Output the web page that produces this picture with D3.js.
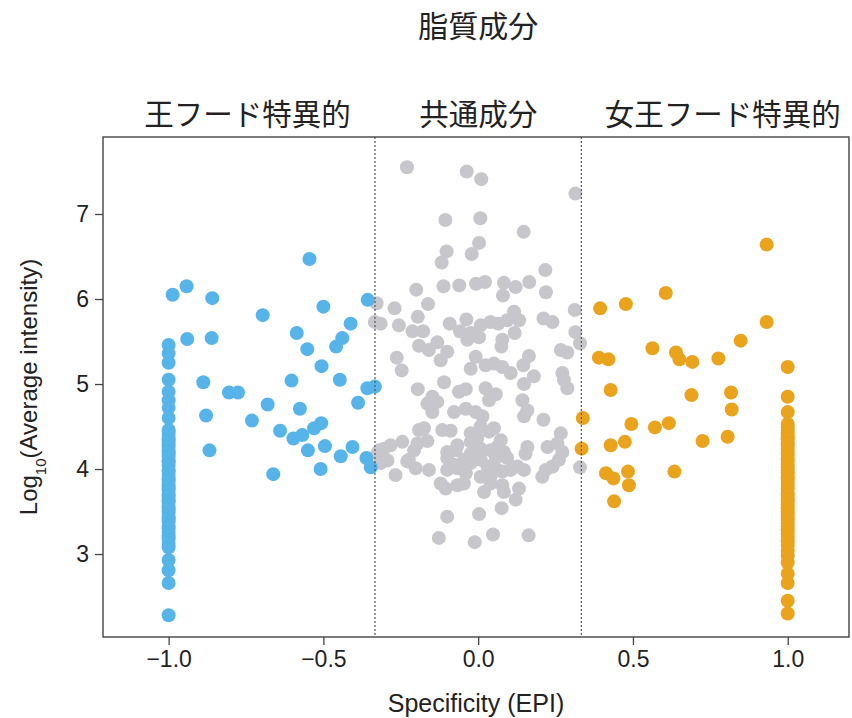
<!DOCTYPE html>
<html>
<head>
<meta charset="utf-8">
<script src="https://cdn.jsdelivr.net/npm/d3@7"></script>
<style>
  body { margin: 0; background: #fff; }
  svg { display: block; }
  .latin { font-family: "Liberation Sans", Arial, sans-serif; fill: #222; }
  .cjk { font-family: "Noto Sans CJK JP", sans-serif; fill: #222; }
</style>
</head>
<body>
<div id="chart"></div>
<script>
const title = '脂質成分';
const groupLabels = ['王フード特異的', '共通成分', '女王フード特異的'];
const groupLabelX = [-0.745, 0, 0.79];
const xTicks = [-1, -0.5, 0, 0.5, 1];
const yTicks = [3, 4, 5, 6, 7];
const cutoffs = [-1 / 3, 1 / 3];

// king-food specific lipids, scattered part [EPI, log10 intensity]
const kingScatter = [
  [-0.545, 6.47], [-0.942, 6.15], [-0.987, 6.05], [-0.859, 6.01], [-0.357, 5.99],
  [-0.50, 5.91], [-0.696, 5.81], [-0.412, 5.71], [-0.586, 5.60], [-0.439, 5.54],
  [-0.459, 5.44], [-0.552, 5.41], [-0.940, 5.53], [-0.861, 5.54], [-0.506, 5.21],
  [-0.888, 5.02], [-0.805, 4.90], [-0.776, 4.90], [-0.603, 5.04], [-0.447, 5.05],
  [-0.358, 4.95], [-0.334, 4.97], [-0.388, 4.78], [-0.680, 4.76], [-0.576, 4.71],
  [-0.879, 4.63], [-0.731, 4.57], [-0.640, 4.45], [-0.597, 4.36], [-0.568, 4.40],
  [-0.530, 4.48], [-0.507, 4.54], [-0.550, 4.22], [-0.495, 4.27], [-0.444, 4.15],
  [-0.406, 4.26], [-0.361, 4.13], [-0.347, 4.02], [-0.868, 4.22], [-0.509, 4.00],
  [-0.662, 3.94]
];
// king-food only (EPI = -1)
const kingOnly = [
  5.46, 5.36, 5.25, 5.05, 4.91, 4.81, 4.72, 4.60, 4.46, 4.44, 4.40, 4.35, 4.33,
  4.29, 4.26, 4.21, 4.19, 4.15, 4.10, 4.08, 4.04, 3.99, 3.97, 3.93, 3.88, 3.86,
  3.81, 3.78, 3.75, 3.70, 3.67, 3.63, 3.61, 3.55, 3.52, 3.49, 3.44, 3.41, 3.38,
  3.33, 3.30, 3.26, 3.21, 3.18, 3.13, 3.08, 2.93, 2.81, 2.66, 2.28
];

// queen-food specific lipids, scattered part
const queenScatter = [
  [0.932, 6.64], [0.606, 6.07], [0.477, 5.94], [0.394, 5.89], [0.932, 5.73],
  [0.848, 5.51], [0.563, 5.42], [0.639, 5.37], [0.650, 5.29], [0.692, 5.26],
  [0.776, 5.30], [0.390, 5.31], [0.421, 5.29], [0.428, 4.93], [0.689, 4.87],
  [0.817, 4.90], [0.819, 4.70], [0.338, 4.60], [0.495, 4.53], [0.571, 4.49],
  [0.616, 4.54], [0.725, 4.33], [0.806, 4.38], [0.428, 4.28], [0.474, 4.32],
  [0.334, 4.24], [0.413, 3.95], [0.437, 3.89], [0.484, 3.97], [0.487, 3.81],
  [0.634, 3.97], [0.439, 3.62]
];
// queen-food only (EPI = 1)
const queenOnly = [
  5.20, 4.85, 4.67, 4.53, 4.49, 4.46, 4.42, 4.38, 4.35, 4.31, 4.28, 4.24, 4.20,
  4.17, 4.13, 4.10, 4.06, 4.02, 3.98, 3.95, 3.91, 3.88, 3.84, 3.80, 3.77, 3.72,
  3.69, 3.65, 3.62, 3.58, 3.54, 3.50, 3.47, 3.43, 3.40, 3.36, 3.32, 3.28, 3.24,
  3.20, 3.15, 3.10, 3.04, 2.98, 2.90, 2.77, 2.66, 2.45, 2.30
];

// shared lipids
const shared = [
  [-0.230, 7.55], [-0.037, 7.50], [0.010, 7.41], [0.314, 7.24], [-0.106, 6.93],
  [0.007, 6.95], [0.147, 6.79], [0.003, 6.66], [-0.021, 6.53], [-0.102, 6.56],
  [-0.118, 6.43], [0.217, 6.34], [-0.200, 6.11], [-0.112, 6.15], [-0.061, 6.16],
  [-0.007, 6.18], [0.022, 6.20], [0.083, 6.19], [0.121, 6.14], [0.165, 6.20],
  [0.219, 6.08], [0.080, 6.04], [-0.328, 5.95], [-0.270, 5.89], [-0.162, 5.94],
  [-0.195, 5.79], [-0.315, 5.71], [-0.256, 5.69], [-0.212, 5.62], [-0.178, 5.62],
  [-0.092, 5.71], [-0.038, 5.76], [-0.059, 5.62], [-0.024, 5.60], [0.008, 5.69],
  [0.040, 5.73], [0.065, 5.71], [0.116, 5.85], [0.132, 5.75], [0.094, 5.75],
  [0.211, 5.77], [0.240, 5.73], [0.312, 5.87], [0.314, 5.61], [0.329, 5.48],
  [-0.035, 5.52], [0.003, 5.55], [0.078, 5.52], [0.118, 5.60], [-0.191, 5.45],
  [-0.159, 5.40], [-0.132, 5.49], [-0.100, 5.38], [-0.121, 5.28], [0.075, 5.44],
  [0.164, 5.33], [0.146, 5.22], [0.267, 5.40], [0.288, 5.37], [-0.263, 5.31],
  [-0.247, 5.16], [-0.008, 5.32], [-0.024, 5.18], [0.024, 5.22], [0.051, 5.24],
  [0.078, 5.20], [0.105, 5.13], [0.272, 5.13], [0.180, 5.09], [-0.195, 4.94],
  [-0.110, 5.02], [-0.062, 4.91], [-0.040, 4.94], [0.024, 4.95], [0.057, 4.88],
  [0.035, 4.81], [0.148, 5.00], [0.143, 4.81], [0.277, 5.05], [0.288, 4.95],
  [-0.148, 4.85], [-0.164, 4.77], [-0.132, 4.79], [-0.148, 4.67], [-0.078, 4.67],
  [-0.040, 4.71], [-0.008, 4.67], [0.014, 4.62], [0.159, 4.69], [0.148, 4.62],
  [0.211, 4.58], [-0.175, 4.48], [-0.191, 4.46], [-0.116, 4.46], [-0.089, 4.45],
  [-0.024, 4.42], [0.008, 4.50], [0.035, 4.44], [0.051, 4.48], [-0.024, 4.32],
  [-0.003, 4.36], [0.073, 4.34], [0.267, 4.42], [-0.245, 4.32], [-0.283, 4.28],
  [-0.304, 4.24], [-0.326, 4.18], [-0.196, 4.30], [-0.164, 4.33], [-0.207, 4.22],
  [-0.224, 4.11], [-0.100, 4.20], [-0.073, 4.22], [-0.067, 4.28], [-0.024, 4.18],
  [0.008, 4.24], [0.040, 4.22], [0.062, 4.26], [0.083, 4.20], [0.094, 4.13],
  [0.159, 4.26], [0.153, 4.18], [0.224, 4.26], [0.256, 4.30], [0.272, 4.20],
  [0.261, 4.11], [0.240, 4.03], [-0.293, 4.10], [-0.315, 4.07], [-0.229, 4.09],
  [-0.202, 4.01], [-0.267, 3.93], [-0.159, 3.99], [-0.100, 3.99], [-0.067, 4.01],
  [-0.040, 3.95], [-0.100, 4.13], [-0.046, 4.11], [-0.078, 4.05], [-0.024, 4.07],
  [0.008, 4.11], [0.030, 4.03], [0.057, 4.13], [0.062, 3.99], [0.008, 3.91],
  [0.040, 3.91], [0.078, 3.97], [0.105, 3.99], [0.127, 4.03], [0.148, 3.99],
  [0.207, 3.91], [0.218, 3.99], [0.240, 4.03], [-0.121, 3.83], [-0.105, 3.77],
  [-0.067, 3.81], [-0.046, 3.83], [0.019, 3.73], [0.040, 3.83], [0.078, 3.81],
  [0.083, 3.73], [0.132, 3.77], [0.121, 3.64], [0.076, 3.54], [0.003, 3.47],
  [-0.100, 3.44], [-0.127, 3.19], [-0.011, 3.14], [0.048, 3.23], [0.163, 3.22],
  [0.329, 4.02], [-0.334, 5.73], [-0.320, 4.22], [-0.334, 4.97]
];

const colors = { king: '#56b4e9', queen: '#e9a31c', shared: '#c7c6cb' };

const width = 852, height = 718;
const margin = { top: 137, right: 3, bottom: 81, left: 103 };

const svg = d3.select('#chart').append('svg')
  .attr('width', width)
  .attr('height', height);

const x = d3.scaleLinear().domain([-1.212, 1.198]).range([margin.left, width - margin.right]);
const y = d3.scaleLinear().domain([2.024, 7.906]).range([height - margin.bottom, margin.top]);

const r = 7;

function dots(data, color) {
  svg.append('g')
    .selectAll('circle')
    .data(data)
    .join('circle')
    .attr('cx', d => x(d[0]))
    .attr('cy', d => y(d[1]))
    .attr('r', r)
    .attr('fill', color);
}

dots(shared, colors.shared);
dots(kingScatter, colors.king);
dots(kingOnly.map(v => [-1, v]), colors.king);
dots(queenScatter, colors.queen);
dots(queenOnly.map(v => [1, v]), colors.queen);

// cutoff lines
svg.append('g')
  .selectAll('line')
  .data(cutoffs)
  .join('line')
  .attr('x1', d => x(d)).attr('x2', d => x(d))
  .attr('y1', margin.top).attr('y2', height - margin.bottom)
  .attr('stroke', '#555')
  .attr('stroke-width', 1.2)
  .attr('stroke-dasharray', '2,2');

// box
svg.append('rect')
  .attr('x', margin.left)
  .attr('y', margin.top)
  .attr('width', width - margin.left - margin.right)
  .attr('height', height - margin.top - margin.bottom)
  .attr('fill', 'none')
  .attr('stroke', '#444')
  .attr('stroke-width', 1.4);

const xAxis = svg.append('g')
  .attr('transform', `translate(0,${height - margin.bottom})`)
  .call(d3.axisBottom(x).tickValues(xTicks).tickFormat(d3.format('.1f')).tickSize(8).tickSizeOuter(0).tickPadding(6));
xAxis.select('.domain').remove();

const yAxis = svg.append('g')
  .attr('transform', `translate(${margin.left},0)`)
  .call(d3.axisLeft(y).tickValues(yTicks).tickFormat(d3.format('d')).tickSize(8).tickSizeOuter(0).tickPadding(6));
yAxis.select('.domain').remove();

svg.selectAll('.tick line').attr('stroke', '#444').attr('stroke-width', 1.3);
svg.selectAll('.tick text')
  .attr('class', 'latin')
  .style('font-size', '23px')
  .attr('fill', '#222');

svg.append('text')
  .attr('class', 'latin')
  .attr('x', (margin.left + width - margin.right) / 2)
  .attr('y', 712)
  .attr('text-anchor', 'middle')
  .style('font-size', '25px')
  .text('Specificity (EPI)');

const yLabel = svg.append('text')
  .attr('class', 'latin')
  .attr('transform', `translate(37,${(margin.top + height - margin.bottom) / 2}) rotate(-90)`)
  .attr('text-anchor', 'middle')
  .style('font-size', '24px');
yLabel.append('tspan').text('Log');
yLabel.append('tspan').attr('baseline-shift', 'sub').style('font-size', '15px').text('10');
yLabel.append('tspan').text('(Average intensity)');

svg.append('text')
  .attr('class', 'cjk')
  .attr('x', x(0))
  .attr('y', 37)
  .attr('text-anchor', 'middle')
  .style('font-size', '30px')
  .text(title);

svg.append('g')
  .selectAll('text')
  .data(groupLabels)
  .join('text')
  .attr('class', 'cjk')
  .attr('x', (d, i) => x(groupLabelX[i]))
  .attr('y', 125)
  .attr('text-anchor', 'middle')
  .style('font-size', '29.5px')
  .text(d => d);
</script>
</body>
</html>
